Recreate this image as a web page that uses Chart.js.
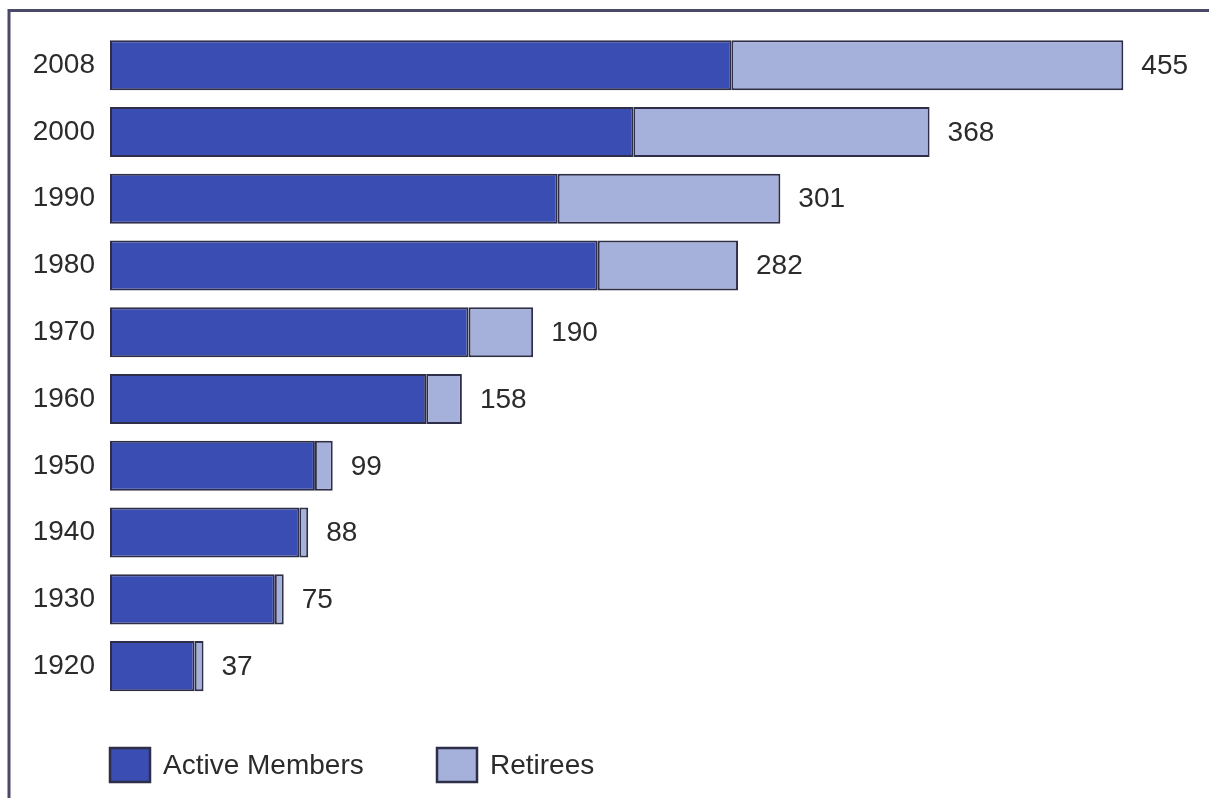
<!DOCTYPE html>
<html>
<head>
<meta charset="utf-8">
<script src="https://cdn.jsdelivr.net/npm/chart.js@4"></script>
<style>
    body { margin: 0; background: #fff; }
    #wrap { width: 1209px; height: 798px; }
</style>
</head>
<body>
<div id="wrap"><canvas id="membersChart" width="1209" height="798"></canvas></div>
<script>
    const years = ['2008', '2000', '1990', '1980', '1970', '1960', '1950', '1940', '1930', '1920'];
    const activeMembers = [279, 235, 201, 219, 161, 142, 92, 85, 74, 38];
    const retirees = [176, 133, 100, 63, 29, 16, 8, 4, 4, 4];
    const totals = ['455', '368', '301', '282', '190', '158', '99', '88', '75', '37'];

    const FONT = "'Liberation Sans', Arial, Helvetica, sans-serif";
    const TEXT = '#2b2b2b';
    const EDGE = '#2e2e48';

    // frame around the chart (top and left only, like the scan)
    const framePlugin = {
        id: 'frame',
        beforeDraw(chart) {
            const ctx = chart.ctx;
            ctx.save();
            ctx.strokeStyle = '#4a4a68';
            ctx.lineWidth = 3;
            ctx.beginPath();
            ctx.moveTo(9, 798);
            ctx.lineTo(9, 10.5);
            ctx.lineTo(1209, 10.5);
            ctx.stroke();
            ctx.restore();
        },
    };

    // total labels at the end of each stacked bar
    const totalsPlugin = {
        id: 'totals',
        afterDatasetsDraw(chart) {
            const ctx = chart.ctx;
            const last = chart.getDatasetMeta(chart.data.datasets.length - 1);
            ctx.save();
            ctx.font = '28px ' + FONT;
            ctx.fillStyle = TEXT;
            ctx.textAlign = 'left';
            ctx.textBaseline = 'middle';
            last.data.forEach((bar, i) => {
                ctx.fillText(totals[i], bar.x + 18, bar.y + 1);
            });
            ctx.restore();
        },
    };

    // legend under the bars
    const legendPlugin = {
        id: 'boxLegend',
        afterDraw(chart) {
            const ctx = chart.ctx;
            const spots = [109, 436];
            ctx.save();
            ctx.font = '28px ' + FONT;
            ctx.textBaseline = 'middle';
            chart.data.datasets.forEach((ds, i) => {
                const x = spots[i];
                ctx.fillStyle = ds.backgroundColor;
                ctx.fillRect(x, 747, 42, 36);
                ctx.strokeStyle = EDGE;
                ctx.lineWidth = 2.5;
                ctx.strokeRect(x + 1, 748, 40, 34);
                ctx.fillStyle = TEXT;
                ctx.fillText(ds.label, x + 54, 766);
            });
            ctx.restore();
        },
    };

    new Chart(document.getElementById('membersChart'), {
        type: 'bar',
        data: {
            labels: years,
            datasets: [
                {
                    label: 'Active Members',
                    data: activeMembers,
                    backgroundColor: '#3a4db2',
                    borderColor: EDGE,
                    borderWidth: 2,
                    borderSkipped: false,
                },
                {
                    label: 'Retirees',
                    data: retirees,
                    backgroundColor: '#a5b1db',
                    borderColor: EDGE,
                    borderWidth: 2,
                    borderSkipped: false,
                },
            ],
        },
        options: {
            indexAxis: 'y',
            responsive: false,
            animation: false,
            devicePixelRatio: 1,
            categoryPercentage: 1,
            barPercentage: 0.75,
            layout: {
                padding: { top: 29.5, bottom: 98.5, left: 0, right: 30 },
            },
            scales: {
                x: {
                    display: false,
                    stacked: true,
                    min: 0,
                    max: 480,
                },
                y: {
                    stacked: true,
                    grid: { display: false, drawTicks: false },
                    border: { display: false },
                    ticks: {
                        padding: 15,
                        color: TEXT,
                        font: { size: 28, family: FONT },
                    },
                    afterFit(scale) {
                        scale.width = 110;
                    },
                },
            },
            plugins: {
                legend: { display: false },
                tooltip: { enabled: false },
            },
        },
        plugins: [framePlugin, totalsPlugin, legendPlugin],
    });
</script>
</body>
</html>
